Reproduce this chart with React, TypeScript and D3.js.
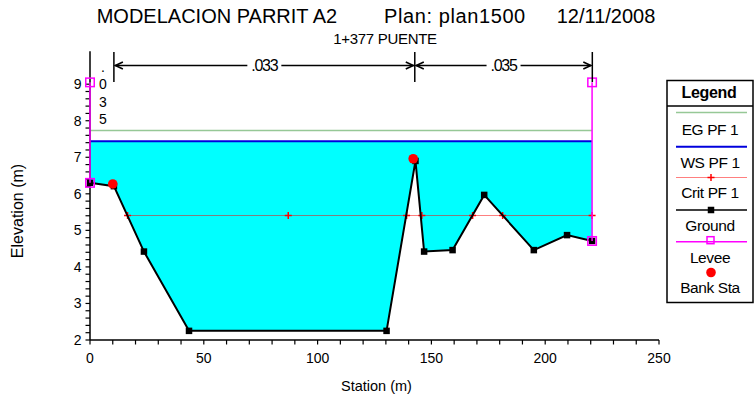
import React from "react";
import * as d3 from "d3";

// ---- data ----
const groundStations = [0, 10.5, 23.7, 43.5, 130.3, 143, 146.8, 159.3, 173.2, 195, 209.6, 220.6];
const groundElev = [6.3, 6.21, 4.42, 2.25, 2.25, 6.9, 4.42, 4.46, 5.97, 4.46, 4.87, 4.71];
const wsElev = 7.44;
const egElev = 7.73;
const critElev = 5.42;
const critStations = [16.5, 87.1, 139.1, 145.8, 168.1, 181.3, 220.6];
const leveeStations = [0, 220.6];
const leveeTop = 9.05;
const leveeBottom = [6.3, 4.71];
const bankStations = [10, 142];
const bankElev = [6.27, 6.96];
const nBreaks = [0, 10.5, 142.7, 220.7];
const nValues = [".035", ".033", ".035"];
const xTicks = [0, 50, 100, 150, 200, 250];
const yTicks = [2, 3, 4, 5, 6, 7, 8, 9];
const legendItems = ["EG PF 1", "WS PF 1", "Crit PF 1", "Ground", "Levee", "Bank Sta"];

const FONT = "'Liberation Sans', Arial, sans-serif";

export default function App() {
  const x = d3.scaleLinear().domain([0, 250]).range([90, 659]);
  const y = d3.scaleLinear().domain([2, 9.9]).range([340, 51.3]);

  const ground = groundStations.map((s, i) => [s, groundElev[i]] as [number, number]);
  const area = d3
    .area<[number, number]>()
    .x((d) => x(d[0]))
    .y0((d) => y(d[1]))
    .y1(() => y(wsElev))(ground) as string;
  const groundLine = d3
    .line<[number, number]>()
    .x((d) => x(d[0]))
    .y((d) => y(d[1]))(ground) as string;

  const wsStart = groundStations[0];
  const wsEnd = groundStations[groundStations.length - 1];
  const critY = Math.floor(y(critElev)) + 0.5;

  const xMinor = d3.range(0, 251, 10);
  const yMinor = d3.range(2, 9.01, 0.2);

  const plus = (cx: number, cy: number, k: string, s = 3.5) => (
    <g key={k} stroke="#ff0000" strokeWidth={1.5}>
      <line x1={cx - s} x2={cx + s} y1={cy} y2={cy} />
      <line x1={cx} x2={cx} y1={cy - s} y2={cy + s} />
    </g>
  );
  const sq = (cx: number, cy: number, k: string, s = 6.5) => (
    <rect key={k} x={cx - s / 2} y={cy - s / 2} width={s} height={s} fill="#000" />
  );
  const levSq = (cx: number, cy: number, k: string, s = 8.5) => (
    <rect key={k} x={cx - s / 2} y={cy - s / 2} width={s} height={s} fill="none" stroke="#ff00ff" strokeWidth={1.5} />
  );

  // Manning n markers
  const nTop = 52;
  const nBot = 82;
  const nArrowY = 65.5;

  const legX0 = 667;
  const legX1 = 753;
  const legCx = (legX0 + legX1) / 2;
  const lineY = [112.5, 146.7, 177.5, 210, 241.7, 272.5];
  const textY = [135, 167.5, 197.5, 230.5, 262.5, 293];

  return (
    <svg width={755} height={404} style={{ position: "absolute", left: 0, top: 0, background: "#fff" }} fontFamily={FONT}>
      <rect x={0} y={0} width={755} height={404} fill="#fff" />
      {/* titles */}
      <text x={96.7} y={22.7} fontSize={20}>MODELACION PARRIT A2</text>
      <text x={384} y={22.7} fontSize={20} letterSpacing={0.6}>Plan: plan1500</text>
      <text x={556.7} y={22.7} fontSize={20}>12/11/2008</text>
      <text x={385} y={44.3} fontSize={15} textAnchor="middle" letterSpacing={-0.3}>1+377 PUENTE</text>

      {/* water fill */}
      <path d={area} fill="#00ffff" />
      {/* EG */}
      <line x1={x(wsStart)} x2={x(wsEnd)} y1={y(egElev)} y2={y(egElev)} stroke="#96c896" strokeWidth={1.5} />
      {/* WS */}
      <line x1={x(wsStart)} x2={x(wsEnd)} y1={y(wsElev)} y2={y(wsElev)} stroke="#0000dd" strokeWidth={2} />
      {/* Crit */}
      <line
        x1={x(critStations[0])}
        x2={x(critStations[critStations.length - 1])}
        y1={critY}
        y2={critY}
        stroke="#ff0000"
        strokeOpacity={0.5}
        strokeWidth={1}
      />
      {critStations.map((s, i) => plus(x(s), critY, "c" + i))}

      {/* axes */}
      <g stroke="#000" strokeWidth={1.5}>
        <line x1={90} x2={90} y1={y.range()[1]} y2={340} />
        <line x1={90} x2={659} y1={340} y2={340} />
      </g>
      <g stroke="#000" strokeWidth={1.2}>
        {xMinor.map((v) => (
          <line key={"xm" + v} x1={x(v)} x2={x(v)} y1={340} y2={344.5} />
        ))}
        {yMinor.map((v) => (
          <line key={"ym" + v} x1={85.5} x2={90} y1={y(v)} y2={y(v)} />
        ))}
      </g>
      {xTicks.map((v) => (
        <text key={"xt" + v} x={x(v)} y={363} fontSize={14} textAnchor="middle">
          {v}
        </text>
      ))}
      {yTicks.map((v) => (
        <text key={"yt" + v} x={81.5} y={y(v) + 5} fontSize={14} textAnchor="end">
          {v}
        </text>
      ))}
      <text x={376.5} y={391} fontSize={14.5} textAnchor="middle">Station (m)</text>
      <text transform="translate(23.3,211) rotate(-90)" fontSize={16} textAnchor="middle">Elevation (m)</text>

      {/* ground */}
      <path d={groundLine} fill="none" stroke="#000" strokeWidth={2} />
      {ground.map((d, i) => sq(x(d[0]), y(d[1]), "g" + i))}

      {/* levees */}
      {leveeStations.map((s, i) => (
        <g key={"lv" + i}>
          <line x1={x(s)} x2={x(s)} y1={y(leveeTop)} y2={y(leveeBottom[i])} stroke="#ff00ff" strokeWidth={1.5} />
          {levSq(x(s), y(leveeTop), "lt" + i)}
          {levSq(x(s), y(leveeBottom[i]), "lb" + i)}
        </g>
      ))}

      {/* bank stations */}
      {bankStations.map((s, i) => (
        <circle key={"b" + i} cx={x(s)} cy={y(bankElev[i])} r={4.8} fill="#ff0000" />
      ))}

      {/* Manning n */}
      <g stroke="#000" strokeWidth={1.5}>
        {nBreaks.slice(1).map((s, i) => (
          <line key={"nb" + i} x1={x(s)} x2={x(s)} y1={nTop} y2={nBot} />
        ))}
      </g>
      {nValues.map((v, i) => {
        const a = x(nBreaks[i]);
        const b = x(nBreaks[i + 1]);
        if (i === 0) {
          const chars = v.split("");
          return (
            <g key={"nv" + i}>
              {chars.map((c, j) => (
                <text key={j} x={(a + b) / 2 + 1} y={72 + j * 17.4} fontSize={14} textAnchor="middle">
                  {c}
                </text>
              ))}
            </g>
          );
        }
        const cx = (a + b) / 2;
        const half = 17;
        return (
          <g key={"nv" + i}>
            <line x1={a + 1} x2={cx - half} y1={nArrowY} y2={nArrowY} stroke="#000" strokeWidth={1.5} />
            <line x1={cx + half} x2={b - 1} y1={nArrowY} y2={nArrowY} stroke="#000" strokeWidth={1.5} />
            <path d={`M${a + 9},${nArrowY - 3.5} L${a + 1.5},${nArrowY} L${a + 9},${nArrowY + 3.5}`} fill="none" stroke="#000" strokeWidth={1.6} />
            <path d={`M${b - 9},${nArrowY - 3.5} L${b - 1.5},${nArrowY} L${b - 9},${nArrowY + 3.5}`} fill="none" stroke="#000" strokeWidth={1.6} />
            <text x={cx} y={nArrowY + 5.5} fontSize={16} textAnchor="middle" letterSpacing={-1.3}>
              {v}
            </text>
          </g>
        );
      })}

      {/* legend */}
      <rect x={legX0} y={80.5} width={legX1 - legX0} height={222} fill="#fff" stroke="#000" strokeWidth={1.5} />
      <line x1={legX0} x2={legX1} y1={106} y2={106} stroke="#000" strokeWidth={1.5} />
      <text x={legCx - 1} y={98} fontSize={16} fontWeight="bold" textAnchor="middle" letterSpacing={-0.3}>Legend</text>
      {legendItems.map((t, i) => (
        <text key={"lt" + i} x={legCx} y={textY[i]} fontSize={15.5} textAnchor="middle" letterSpacing={-0.4}>
          {t}
        </text>
      ))}
      <line x1={676} x2={747} y1={lineY[0]} y2={lineY[0]} stroke="#96c896" strokeWidth={1.5} />
      <line x1={676} x2={747} y1={lineY[1]} y2={lineY[1]} stroke="#0000dd" strokeWidth={2} />
      <line x1={676} x2={747} y1={lineY[2]} y2={lineY[2]} stroke="#ff0000" strokeOpacity={0.5} strokeWidth={1} />
      {plus(legCx + 1, lineY[2], "lp")}
      <line x1={676} x2={747} y1={lineY[3]} y2={lineY[3]} stroke="#000" strokeWidth={1.5} />
      {sq(legCx + 1, lineY[3], "lsq")}
      <line x1={676} x2={747} y1={lineY[4]} y2={lineY[4]} stroke="#ff00ff" strokeWidth={1.5} />
      <rect x={legCx - 3} y={lineY[4] - 5} width={7} height={7} fill="none" stroke="#ff00ff" strokeWidth={1.5} />
      <circle cx={legCx + 1} cy={lineY[5]} r={4.8} fill="#ff0000" />
    </svg>
  );
}
